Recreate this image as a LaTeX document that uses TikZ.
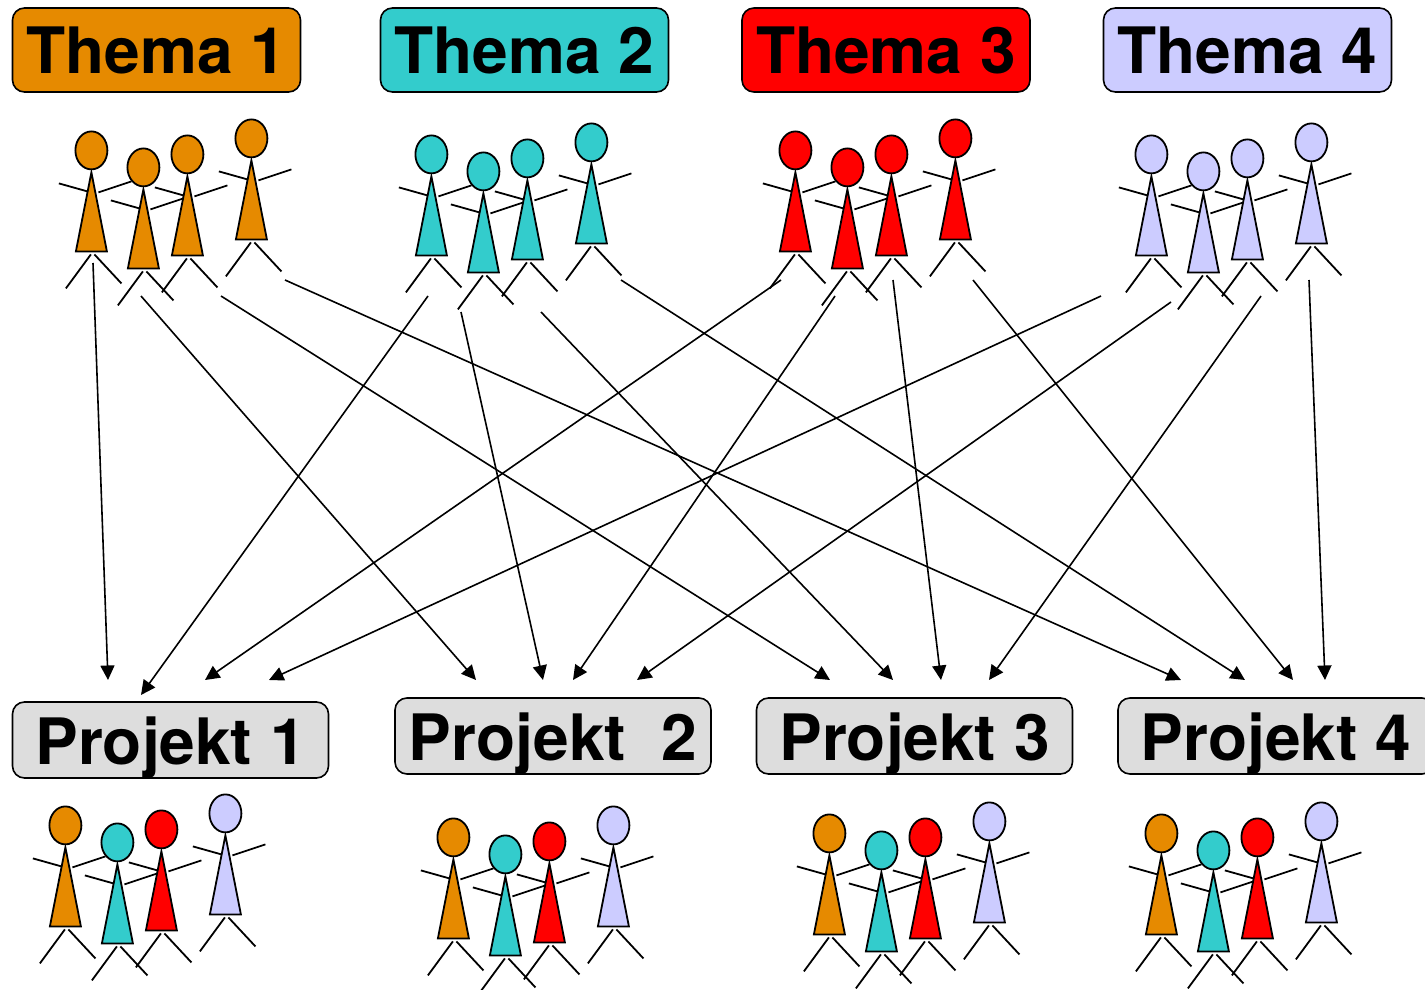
\documentclass[tikz,border=0pt]{standalone}
\usepackage{fontspec}
\setmainfont{TeX Gyre Heros}
\usetikzlibrary{arrows.meta}
\definecolor{themaA}{HTML}{E68A00}
\definecolor{themaB}{HTML}{33CCCC}
\definecolor{themaC}{HTML}{FF0000}
\definecolor{themaD}{HTML}{CCCCFF}
\definecolor{projektgrau}{HTML}{DDDDDD}
\tikzset{
	kasten/.style={draw=black, line width=1.6pt, rounded corners=12pt, inner sep=0pt, minimum height=#1, text height=48pt, text depth=0pt, font=\fontsize{64}{64}\selectfont\bfseries},
	thema/.style={kasten=84pt, minimum width=288pt},
	projekt/.style={kasten=76pt, minimum width=316pt, fill=projektgrau},
	strich/.style={line width=1.8pt},
	pfeil/.style={line width=1.6pt, -{Triangle[length=14.5pt,width=14pt]}}
}
\def\figur(#1,#2)#3{
	\begin{scope}[shift={(#1+0.4,#2+0.4)}]
		\draw[strich] (-32.5,33) -- (-4,41);
		\draw[strich] (7,42) -- (40,31);
		\draw[strich] (-0.5,104) -- (-25.5,138);
		\draw[strich] (3,104) -- (30,133);
		\draw[strich, fill=#3] (0,22) -- (15.5,101) -- (-15.5,101) -- cycle;
		\draw[strich, fill=#3] (0,0) ellipse (16 and 19);
	\end{scope}
}
\def\gruppe(#1,#2)#3#4#5#6{
	\figur(#1,#2){#3}
	\figur(#1+52,#2+17){#4}
	\figur(#1+96,#2+4){#5}
	\figur(#1+160,#2-12){#6}
}

\begin{document}
\begin{tikzpicture}[x=1pt, y=-1pt]
	\useasboundingbox (0,0) rectangle (1425,990);
	%%%%% THEMEN %%%%%
	\node[thema, fill=themaA] (thema1) at (156.5,50) {Thema 1};
	\node[thema, fill=themaB] (thema2) at (524.5,50) {Thema 2};
	\node[thema, fill=themaC] (thema3) at (886,50) {Thema 3};
	\node[thema, fill=themaD] (thema4) at (1247.5,50) {Thema 4};

	\gruppe(91,150){themaA}{themaA}{themaA}{themaA}
	\gruppe(431,154){themaB}{themaB}{themaB}{themaB}
	\gruppe(795,150){themaC}{themaC}{themaC}{themaC}
	\gruppe(1151,154){themaD}{themaD}{themaD}{themaD}

	%%%%% PROJEKTE %%%%%
	\node[projekt] (projekt1) at (170.5,740) {Projekt 1};
	\node[projekt] (projekt2) at (553,736) {Projekt\ \ 2};
	\node[projekt] (projekt3) at (914.5,736) {Projekt 3};
	\node[projekt] (projekt4) at (1276,736) {Projekt 4};

	\gruppe(65,825){themaA}{themaB}{themaC}{themaD}
	\gruppe(453,837){themaA}{themaB}{themaC}{themaD}
	\gruppe(829,833){themaA}{themaB}{themaC}{themaD}
	\gruppe(1161,833){themaA}{themaB}{themaC}{themaD}

	%%%%% ANFANG %%%%%
	\coordinate (a11) at (93,263);
	\coordinate (a12) at (141,296);
	\coordinate (a13) at (221,296);
	\coordinate (a14) at (285,280);
	\coordinate (a21) at (428,296);
	\coordinate (a22) at (461,312);
	\coordinate (a23) at (541,312);
	\coordinate (a24) at (621,280);
	\coordinate (a31) at (781,280);
	\coordinate (a32) at (835,296);
	\coordinate (a33) at (893,280);
	\coordinate (a34) at (973,280);
	\coordinate (a41) at (1101,296);
	\coordinate (a42) at (1171,302);
	\coordinate (a43) at (1261,296);
	\coordinate (a44) at (1309,280);

	%%%%% ENDE %%%%%
	\coordinate (e11) at (108,680);
	\coordinate (e12) at (476,680);
	\coordinate (e13) at (830,680);
	\coordinate (e14) at (1181,680);
	\coordinate (e21) at (141,695);
	\coordinate (e22) at (543,680);
	\coordinate (e23) at (893,680);
	\coordinate (e24) at (1245,680);
	\coordinate (e31) at (205,680);
	\coordinate (e32) at (573,680);
	\coordinate (e33) at (941,680);
	\coordinate (e34) at (1293,680);
	\coordinate (e41) at (269,680);
	\coordinate (e42) at (637,680);
	\coordinate (e43) at (989,680);
	\coordinate (e44) at (1325,680);

	\foreach \t in {1,2,3,4}
		\foreach \p in {1,2,3,4}
			\draw[pfeil] (a\t\p) -- (e\t\p);
\end{tikzpicture}
\end{document}
